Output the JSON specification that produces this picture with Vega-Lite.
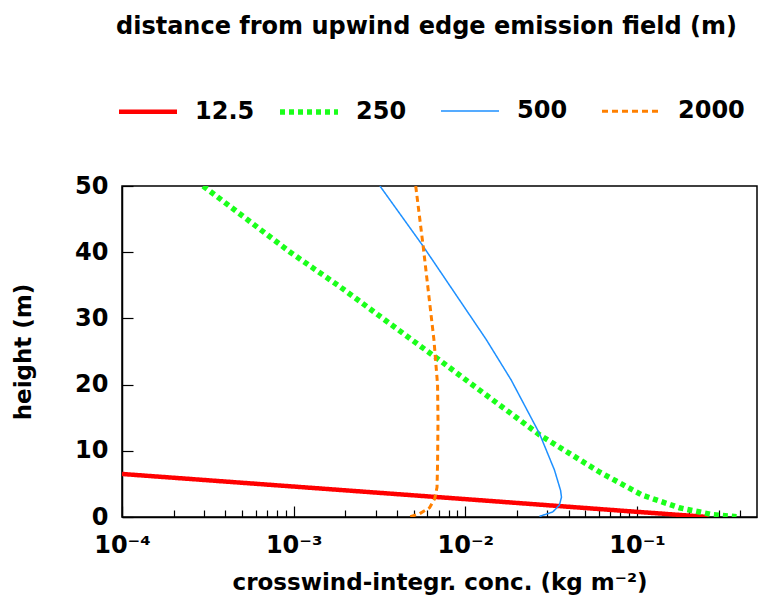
{
  "$schema": "https://vega.github.io/schema/vega-lite/v6.json",
  "autosize": {"type": "none"},
  "padding": {"left": 122, "top": 186, "right": 1, "bottom": 86},
  "width": 635,
  "height": 331,
  "config": {
    "font": "DejaVu Sans",
    "view": {"stroke": "#000000", "strokeWidth": 1.5},
    "axis": {
      "grid": false,
      "labelFont": "DejaVu Sans",
      "labelFontWeight": "bold",
      "labelFontSize": 24,
      "labelColor": "#000000",
      "titleFont": "DejaVu Sans",
      "titleFontWeight": "bold",
      "titleFontSize": 23,
      "titleColor": "#000000",
      "domainColor": "#000000",
      "domainWidth": 1.5,
      "tickColor": "#000000",
      "tickWidth": 1.2,
      "labelFlush": false,
      "labelOverlap": false
    }
  },
  "data": {
    "values": [
      {"d": "12.5", "i": 0, "c": 0.0001, "h": 6.5},
      {"d": "12.5", "i": 1, "c": 0.001, "h": 4.6},
      {"d": "12.5", "i": 2, "c": 0.01, "h": 2.7},
      {"d": "12.5", "i": 3, "c": 0.1, "h": 0.78},
      {"d": "12.5", "i": 4, "c": 0.26, "h": 0.0},

      {"d": "250", "i": 0, "c": 0.000297, "h": 50},
      {"d": "250", "i": 1, "c": 0.000955, "h": 40},
      {"d": "250", "i": 2, "c": 0.001858, "h": 34.8},
      {"d": "250", "i": 3, "c": 0.00474, "h": 27.0},
      {"d": "250", "i": 4, "c": 0.00682, "h": 24.0},
      {"d": "250", "i": 5, "c": 0.01585, "h": 16.9},
      {"d": "250", "i": 6, "c": 0.0271, "h": 12.4},
      {"d": "250", "i": 7, "c": 0.0604, "h": 6.8},
      {"d": "250", "i": 8, "c": 0.1074, "h": 3.3},
      {"d": "250", "i": 9, "c": 0.1762, "h": 1.4},
      {"d": "250", "i": 10, "c": 0.274, "h": 0.36},
      {"d": "250", "i": 11, "c": 0.38, "h": 0.05},

      {"d": "500", "i": 0, "c": 0.00318, "h": 50},
      {"d": "500", "i": 1, "c": 0.00568, "h": 40.9},
      {"d": "500", "i": 2, "c": 0.01324, "h": 26.8},
      {"d": "500", "i": 3, "c": 0.01849, "h": 20.7},
      {"d": "500", "i": 4, "c": 0.02704, "h": 12.6},
      {"d": "500", "i": 5, "c": 0.03304, "h": 7.1},
      {"d": "500", "i": 6, "c": 0.03589, "h": 4.0},
      {"d": "500", "i": 7, "c": 0.03631, "h": 3.0},
      {"d": "500", "i": 8, "c": 0.03532, "h": 1.8},
      {"d": "500", "i": 9, "c": 0.03228, "h": 0.76},
      {"d": "500", "i": 10, "c": 0.02704, "h": 0.1},

      {"d": "2000", "i": 0, "c": 0.00514, "h": 50},
      {"d": "2000", "i": 1, "c": 0.00568, "h": 40.9},
      {"d": "2000", "i": 2, "c": 0.00656, "h": 26.8},
      {"d": "2000", "i": 3, "c": 0.00689, "h": 20},
      {"d": "2000", "i": 4, "c": 0.00693, "h": 14.6},
      {"d": "2000", "i": 5, "c": 0.00689, "h": 8},
      {"d": "2000", "i": 6, "c": 0.00684, "h": 4.5},
      {"d": "2000", "i": 7, "c": 0.00664, "h": 2.8},
      {"d": "2000", "i": 8, "c": 0.00619, "h": 1.4},
      {"d": "2000", "i": 9, "c": 0.00542, "h": 0.5},
      {"d": "2000", "i": 10, "c": 0.00474, "h": 0.0}
    ]
  },
  "encoding": {
    "y": {
      "field": "h",
      "type": "quantitative",
      "scale": {"domain": [0, 50], "nice": false, "zero": false},
      "axis": {
        "values": [0, 10, 20, 30, 40, 50],
        "tickSize": -11,
        "labelPadding": 25,
        "title": "height (m)",
        "titlePadding": 39
      }
    },
    "color": {
      "field": "d",
      "type": "ordinal",
      "scale": {
        "type": "ordinal",
        "domain": ["12.5", "250", "500", "2000"],
        "range": ["#ff0000", "#1aff1a", "#1e90ff", "#ff8000"]
      },
      "legend": {
        "title": "distance from upwind edge emission field (m)",
        "orient": "none",
        "legendX": -6,
        "legendY": -171,
        "direction": "horizontal",
        "columns": 4,
        "gridAlign": "all",
        "columnPadding": 7,
        "symbolType": "stroke",
        "symbolSize": 3364,
        "labelFont": "DejaVu Sans",
        "labelFontWeight": "bold",
        "labelFontSize": 24,
        "labelColor": "#000000",
        "labelOffset": 15,
        "labelLimit": 0,
        "titleFont": "DejaVu Sans",
        "titleFontWeight": "bold",
        "titleFontSize": 24,
        "titleColor": "#000000",
        "titleLimit": 0,
        "titlePadding": 41
      }
    },
    "strokeDash": {
      "field": "d",
      "type": "ordinal",
      "scale": {
        "type": "ordinal",
        "domain": ["12.5", "250", "500", "2000"],
        "range": [[1, 0], [5, 4], [1, 0], [6, 4]]
      }
    },
    "strokeWidth": {
      "field": "d",
      "type": "ordinal",
      "scale": {
        "type": "ordinal",
        "domain": ["12.5", "250", "500", "2000"],
        "range": [4.5, 5.5, 1.5, 3]
      }
    },
    "order": {"field": "i", "type": "quantitative"}
  },
  "layer": [
    {
      "transform": [{"filter": "datum.d === '12.5' || datum.d === '250'"}],
      "mark": {"type": "line", "clip": true, "strokeCap": "butt"},
      "encoding": {
        "x": {
          "field": "c",
          "type": "quantitative",
          "scale": {"type": "log", "domain": [0.0001, 0.5], "nice": false},
          "axis": {
            "orient": "bottom",
            "values": [0.0001, 0.001, 0.01, 0.1],
            "labelExpr": "datum.value < 0.0005 ? '10⁻⁴' : datum.value < 0.005 ? '10⁻³' : datum.value < 0.05 ? '10⁻²' : '10⁻¹'",
            "tickSize": -11,
            "labelPadding": 27,
            "title": "crosswind-integr. conc. (kg m⁻²)",
            "titlePadding": 14
          }
        }
      }
    },
    {
      "transform": [{"filter": "datum.d === '500' || datum.d === '2000'"}],
      "mark": {"type": "line", "clip": true, "strokeCap": "butt"},
      "encoding": {
        "x": {
          "field": "c",
          "type": "quantitative",
          "scale": {"type": "log", "domain": [0.0001, 0.5], "nice": false},
          "axis": {
            "orient": "bottom",
            "values": [0.0002, 0.0003, 0.0004, 0.0005, 0.0006, 0.0007, 0.0008, 0.0009, 0.002, 0.003, 0.004, 0.005, 0.006, 0.007, 0.008, 0.009, 0.02, 0.03, 0.04, 0.05, 0.06, 0.07, 0.08, 0.09, 0.2, 0.3, 0.4],
            "labels": false,
            "domain": false,
            "tickSize": -7,
            "title": null
          }
        }
      }
    }
  ],
  "resolve": {"axis": {"x": "independent"}}
}
